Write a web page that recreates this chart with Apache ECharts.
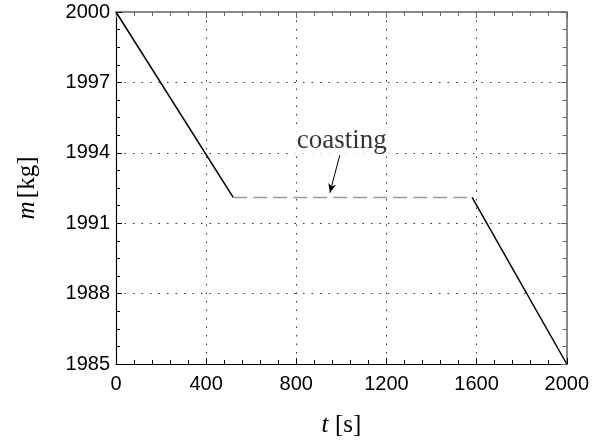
<!DOCTYPE html>
<html><head><meta charset="utf-8">
<script src="https://cdn.jsdelivr.net/npm/echarts@6/dist/echarts.min.js"></script>
<style>html,body{margin:0;padding:0;background:#fff}#c{width:592px;height:443px}</style>
</head><body><div id="c"></div>
<script>
// Data
const burn1T = [0, 520];
const burn1M = [2000, 1992.1];
const coastT = [520, 1580];
const coastM = [1992.1, 1992.1];
const burn2T = [1580, 2000];
const burn2M = [1992.1, 1985];
const xTicks = [0, 400, 800, 1200, 1600, 2000];
const yTicks = [1985, 1988, 1991, 1994, 1997, 2000];
const annotationText = 'coasting';
const annotationPos = [1002, 1994.5];
const arrowFrom = [993, 1993.9];
const arrowTo = [949, 1992.3];

const pairs = (a, b) => a.map((v, i) => [v, b[i]]);
const chart = echarts.init(document.getElementById('c'));
const tickFont = {fontFamily: 'Liberation Sans', fontSize: 20, color: '#000', formatter: v => String(v)};
const gridLine = {show: true, lineStyle: {color: '#333', type: [1.5, 7], width: 1}};
const commonX = {
  type: 'value', min: xTicks[0], max: xTicks[xTicks.length - 1], interval: 400,
  splitLine: gridLine,
  axisTick: {inside: true, length: 6, lineStyle: {color: '#000'}},
  minorTick: {show: true, splitNumber: 5, length: 4, lineStyle: {color: '#000'}}
};
const commonY = {
  type: 'value', min: yTicks[0], max: yTicks[yTicks.length - 1], interval: 3,
  splitLine: gridLine,
  axisTick: {inside: true, length: 6, lineStyle: {color: '#000'}},
  minorTick: {show: true, splitNumber: 4, length: 4, lineStyle: {color: '#000'}}
};
const nameRich = {
  i: {fontFamily: 'Liberation Serif', fontStyle: 'italic', fontSize: 25, color: '#000'},
  r: {fontFamily: 'Liberation Serif', fontSize: 25, color: '#000'}
};
chart.setOption({
  animation: false,
  grid: {left: 116, right: 25, top: 12, bottom: 79},
  xAxis: [
    Object.assign({}, commonX, {
      position: 'bottom',
      axisLine: {onZero: false, lineStyle: {color: '#000', width: 1.2}},
      axisLabel: Object.assign({margin: 10}, tickFont),
      name: '{i|t}  {r|[s]}', nameLocation: 'middle', nameGap: 49,
      nameTextStyle: {rich: nameRich}
    }),
    Object.assign({}, commonX, {
      position: 'top',
      axisLine: {onZero: false, lineStyle: {color: '#888', width: 2}},
      axisTick: {inside: true, length: 6, lineStyle: {color: '#666'}},
      minorTick: {show: true, splitNumber: 5, length: 4, lineStyle: {color: '#666'}},
      axisLabel: {show: false},
      splitLine: {show: false}
    })
  ],
  yAxis: [
    Object.assign({}, commonY, {
      position: 'left',
      axisLine: {onZero: false, lineStyle: {color: '#000', width: 1.2}},
      axisLabel: Object.assign({margin: 6}, tickFont),
      name: '{i|m} {r|[kg]}', nameLocation: 'middle', nameGap: 76, nameRotate: 90,
      nameTextStyle: {rich: nameRich}
    }),
    Object.assign({}, commonY, {
      position: 'right',
      axisLine: {onZero: false, lineStyle: {color: '#888', width: 2}},
      axisTick: {inside: true, length: 6, lineStyle: {color: '#666'}},
      minorTick: {show: true, splitNumber: 4, length: 4, lineStyle: {color: '#666'}},
      axisLabel: {show: false},
      splitLine: {show: false}
    })
  ],
  series: [
    {type: 'line', data: pairs(burn1T, burn1M), symbol: 'none',
     lineStyle: {color: '#000', width: 1.5}},
    {type: 'line', data: pairs(coastT, coastM), symbol: 'none',
     lineStyle: {color: '#999', width: 1.5, type: [14, 6]}},
    {type: 'line', data: pairs(burn2T, burn2M), symbol: 'none',
     lineStyle: {color: '#000', width: 1.5},
     markLine: {
       silent: true, symbol: ['none', 'arrow'], symbolSize: [6, 9],
       lineStyle: {color: '#000', width: 1, type: 'solid'},
       label: {show: false},
       data: [[{coord: arrowFrom}, {coord: arrowTo}]]
     }},
    {type: 'scatter', data: [annotationPos], symbolSize: 0, z: 10,
     label: {show: true, position: 'inside', formatter: annotationText,
       fontFamily: 'Liberation Serif', fontSize: 27, color: '#000',
       backgroundColor: '#fff', padding: [0, 3]}}
  ]
});
</script></body></html>
